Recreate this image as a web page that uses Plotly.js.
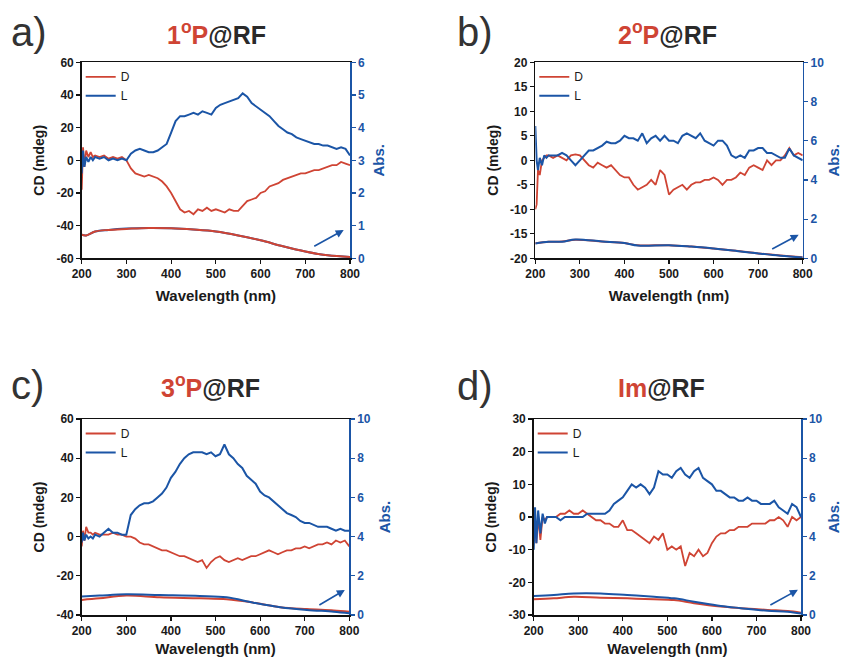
<!DOCTYPE html>
<html>
<head>
<meta charset="utf-8">
<script src="https://cdn.plot.ly/plotly-3.0.1.min.js"></script>
<style>html,body{margin:0;padding:0;background:#fff;}#chart{width:842px;height:657px;}</style>
</head>
<body>
<div id="chart"></div>
<script>
// ---- shared wavelength grid for CD spectra (nm) ----
const wl = [200,203,206,210,215,220,225,230,240,250,260,270,280,290,300,310,320,330,340,350,360,370,380,390,400,410,420,430,440,450,460,470,480,490,500,510,520,530,540,550,560,570,580,590,600,610,620,630,640,650,660,670,680,690,700,710,720,730,740,750,760,770,780,790,800];

// ---- a) 1°P@RF ----
const cdD_a = [-18,8,-4,6,2,5,2,3,2,3,1,2,1,2,0,-5,-8,-9,-10,-9,-10,-11,-13,-16,-20,-25,-30,-32,-31,-33,-30,-31,-29,-31,-30,-31,-32,-30,-31,-31,-28,-25,-24,-23,-20,-19,-16,-15,-14,-12,-11,-10,-9,-8,-8,-7,-6,-6,-5,-4,-3,-3,-1,-2,-3];
const cdL_a = [-8,6,-4,2,-1,2,0,2,1,2,0,1,0,1,0,4,6,7,6,5,5,6,8,10,17,24,27,27,28,29,28,30,29,28,32,34,35,36,37,38,41,39,35,33,31,29,27,24,21,19,17,16,14,13,12,11,10,10,9,9,8,7,8,7,3];
const absWl_a = [200,210,230,260,300,350,400,450,500,550,600,650,700,750,800];
const absD_a = [0.72,0.70,0.82,0.87,0.90,0.93,0.92,0.88,0.82,0.70,0.55,0.37,0.21,0.09,0.04];
const absL_a = [0.72,0.70,0.82,0.87,0.91,0.93,0.92,0.88,0.82,0.70,0.55,0.37,0.21,0.09,0.04];

// ---- b) 2°P@RF ----
const cdD_b = [-10,-9,-2,-3,0,0.5,1,1,0.5,1,0.5,0,1,1.2,1,0,-1,-1.5,-0.5,-1,-1.5,-1,-2,-3,-3.5,-3.5,-5,-6,-5.5,-5,-4,-5,-2,-3,-7,-6,-5.5,-5,-6,-5,-4.5,-4.5,-4,-4,-3.5,-4,-5,-4,-4,-3.5,-2.5,-3,-1.5,-1,-1.5,-2,0,-1,0,0,1,2.5,1,1.5,1];
const cdL_b = [7,0,-2,0.5,-1,1,0.5,1,1,1,1.5,1,0,-1,0,1,2,2,2.5,3,3.8,3.5,3.5,4,5,4.5,4.5,4,5.5,3.5,4.5,5,4,5,4,4,3.5,5,5.5,5,4.5,5.5,4,3.5,3,4,4,3,1,0.5,1,0.5,2,2,2.5,2.5,1.5,1.5,1,0.5,0.5,2.4,1,0.5,0];
const absWl_b = [200,230,260,290,350,400,430,500,550,600,650,700,750,800];
const absD_b = [0.77,0.84,0.86,0.95,0.86,0.78,0.66,0.67,0.60,0.50,0.39,0.25,0.14,0.05];
const absL_b = [0.75,0.84,0.85,0.96,0.86,0.78,0.65,0.67,0.60,0.50,0.38,0.25,0.13,0.04];

// ---- c) 3°P@RF ----
const cdD_c = [-5,3,-2,5,2,2,1,2,1,1,1,2,1,1,0,0,-1,-3,-4,-4,-5,-6,-7,-7,-8,-9,-10,-10,-11,-12,-13,-12,-16,-13,-11,-10,-12,-13,-12,-11,-12,-11,-10,-10,-9,-8,-7,-8,-9,-8,-7,-7,-6,-6,-5,-6,-5,-4,-4,-3,-4,-2,-3,-2,-5];
const cdL_c = [-3,2,-2,1,-1,0,-1,1,0,2,4,2,2,1,1,11,14,16,17,17,18,20,22,25,30,33,37,40,42,43,43,43,42,43,41,42,47,42,40,37,35,31,29,27,23,21,20,18,16,14,12,11,10,8,7,7,6,5,5,5,4,3,4,3,3];
const absWl_c = [200,240,300,375,465,525,585,645,705,765,800];
const absD_c = [0.77,0.85,0.99,0.90,0.85,0.80,0.63,0.40,0.30,0.23,0.17];
const absL_c = [0.94,0.99,1.06,1.02,0.97,0.90,0.63,0.40,0.26,0.17,0.09];

// ---- d) Im@RF ----
const cdD_d = [-5,-2,-8,0,-7,0,-1,0,0,0,1,1,2,1,1,2,1,0,-1,-1,-2,-2,-3,-3,-1,-4,-4,-5,-6,-7,-8,-6,-7,-5,-10,-9,-10,-9,-15,-11,-12,-10,-12,-11,-8,-6,-5,-5,-4,-4,-3,-3,-3,-2,-2,-2,-2,-1,-1,0,-1,-3,0,-1,0];
const cdL_d = [-10,3,-8,2,-5,1,-2,0,0,0,-1,0,0,0,0,0,1,1,1,1,1,2,4,5,6,8,10,9,10,9,7,9,14,13,13,12,14,15,13,12,14,15,12,11,10,8,8,7,6,6,5,5,6,5,5,4,4,4,5,3,2,1,4,3,0];
const absWl_d = [200,245,290,350,410,470,515,560,620,665,725,770,800];
const absD_d = [0.80,0.85,0.93,0.88,0.85,0.80,0.76,0.60,0.43,0.35,0.26,0.20,0.12];
const absL_d = [0.97,1.02,1.10,1.10,1.02,0.93,0.85,0.68,0.46,0.35,0.22,0.17,0.08];

// ---- tick labels (left CD axes, hyphen minus as in the original) ----
const cdTicks_a = [-60,-40,-20,0,20,40,60];
const cdTickText_a = ['-60','-40','-20','0','20','40','60'];
const cdTicks_b = [-20,-15,-10,-5,0,5,10,15,20];
const cdTickText_b = ['-20','-15','-10','-5','0','5','10','15','20'];
const cdTicks_c = [-40,-20,0,20,40,60];
const cdTickText_c = ['-40','-20','0','20','40','60'];
const cdTicks_d = [-30,-20,-10,0,10,20,30];
const cdTickText_d = ['-30','-20','-10','0','10','20','30'];

// ---- labels ----
const panelLetters = ['a)','b)','c)','d)'];
const panelNames = [['1<sup>o</sup>P','@RF'],['2<sup>o</sup>P','@RF'],['3<sup>o</sup>P','@RF'],['Im','@RF']];
const seriesNames = ['D','L'];
const cdRanges = [[-60,60],[-20,20],[-40,60],[-30,30]];
const absRanges = [[0,6],[0,10],[0,10],[0,10]];
const absDticks = [1,2,2,2];

const RED = '#cf4434';
const BLUE = '#1b55a6';
const FONT = 'Liberation Sans, Arial, sans-serif';
const W = 842, H = 657;

const panels = [
  {cdD: cdD_a, cdL: cdL_a, aw: absWl_a, aD: absD_a, aL: absL_a, tv: cdTicks_a, tt: cdTickText_a, px:[81.7,350], py:[62.3,258.3], redTop:true},
  {cdD: cdD_b, cdL: cdL_b, aw: absWl_b, aD: absD_b, aL: absL_b, tv: cdTicks_b, tt: cdTickText_b, px:[535.3,802.7], py:[62.3,258.3], redTop:false},
  {cdD: cdD_c, cdL: cdL_c, aw: absWl_c, aD: absD_c, aL: absL_c, tv: cdTicks_c, tt: cdTickText_c, px:[81.7,349.3], py:[419,615], redTop:false},
  {cdD: cdD_d, cdL: cdL_d, aw: absWl_d, aD: absD_d, aL: absL_d, tv: cdTicks_d, tt: cdTickText_d, px:[533.7,801], py:[419,615], redTop:false}
];
const titlePos = [[216,33],[667,33],[210,386],[661,388]];
const letterPos = [[9,32],[455,32],[9,385],[455,386]];
const arrows = [
  {x:786, y:-42.7, ax:-31, ay:17},
  {x:791, y:-15.2, ax:-28, ay:15},
  {x:790, y:-27.2, ax:-27, ay:16},
  {x:793, y:-22.3, ax:-29, ay:16}
];

const data = [];
const layout = {
  width: W, height: H,
  margin: {l:0, r:0, t:0, b:0},
  paper_bgcolor: '#ffffff', plot_bgcolor: 'rgba(0,0,0,0)',
  font: {family: FONT, color: '#1a1a1a'},
  showlegend: true,
  annotations: []
};

panels.forEach((p, i) => {
  const xid = i === 0 ? 'x' : 'x' + (i + 1);
  const yl = 'y' + (i === 0 ? '' : (2 * i + 1));
  const yr = 'y' + (2 * i + 2);
  const xkey = i === 0 ? 'xaxis' : 'xaxis' + (i + 1);
  const ylkey = i === 0 ? 'yaxis' : 'yaxis' + (2 * i + 1);
  const yrkey = 'yaxis' + (2 * i + 2);
  const legKey = i === 0 ? 'legend' : 'legend' + (i + 1);

  // absorbance spectra (right axis)
  const absD = {x: p.aw, y: p.aD, xaxis: xid, yaxis: yr, mode: 'lines', line: {color: RED, width: 2, shape: 'spline'}, showlegend: false, hoverinfo: 'skip'};
  const absL = {x: p.aw, y: p.aL, xaxis: xid, yaxis: yr, mode: 'lines', line: {color: BLUE, width: 2, shape: 'spline'}, showlegend: false, hoverinfo: 'skip'};
  if (p.redTop) { data.push(absL, absD); } else { data.push(absD, absL); }

  // CD spectra (left axis)
  data.push({x: wl, y: p.cdD, xaxis: xid, yaxis: yl, mode: 'lines', name: seriesNames[0], legend: legKey, line: {color: RED, width: 1.8}});
  data.push({x: wl, y: p.cdL, xaxis: xid, yaxis: yl, mode: 'lines', name: seriesNames[1], legend: legKey, line: {color: BLUE, width: 2}});

  const xd = [p.px[0] / W, p.px[1] / W];
  const yd = [1 - p.py[1] / H, 1 - p.py[0] / H];

  layout[xkey] = {
    domain: xd, anchor: yl, range: [200, 800], dtick: 100, tick0: 200,
    showline: true, linecolor: '#111', linewidth: 1.5, mirror: true,
    ticks: 'outside', ticklen: 4, tickwidth: 1.2, tickcolor: '#111',
    showgrid: false, zeroline: false,
    tickfont: {family: FONT, size: 12, color: '#1a1a1a', weight: 'bold'},
    title: {text: 'Wavelength (nm)', font: {family: FONT, size: 15, color: '#1a1a1a', weight: 'bold'}, standoff: 10}
  };
  layout[ylkey] = {
    domain: yd, anchor: xid, range: cdRanges[i], tickmode: 'array', tickvals: p.tv, ticktext: p.tt,
    showline: true, linecolor: '#111', linewidth: 1.5,
    ticks: 'outside', ticklen: 4, tickwidth: 1.2, tickcolor: '#111',
    showgrid: false, zeroline: false,
    tickfont: {family: FONT, size: 12, color: '#1a1a1a', weight: 'bold'},
    title: {text: 'CD (mdeg)', font: {family: FONT, size: 14, color: '#1a1a1a', weight: 'bold'}, standoff: 8}
  };
  layout[yrkey] = {
    domain: yd, anchor: xid, overlaying: yl, side: 'right', range: absRanges[i], dtick: absDticks[i],
    showline: true, linecolor: BLUE, linewidth: 1.5,
    ticks: 'outside', ticklen: 4, tickwidth: 1.2, tickcolor: BLUE,
    showgrid: false, zeroline: false,
    tickfont: {family: FONT, size: 12, color: BLUE, weight: 'bold'},
    title: {text: 'Abs.', font: {family: FONT, size: 15, color: BLUE, weight: 'bold'}, standoff: 9}
  };
  layout[legKey] = {
    x: (p.px[0] - 1) / W, y: 1 - (p.py[0] + 0) / H, xanchor: 'left', yanchor: 'top',
    bgcolor: 'rgba(0,0,0,0)', borderwidth: 0, font: {family: FONT, size: 12, color: '#1a1a1a'},
    itemwidth: 30, tracegroupgap: 0
  };

  // panel title
  layout.annotations.push({
    xref: 'paper', yref: 'paper', x: titlePos[i][0] / W, y: 1 - titlePos[i][1] / H,
    xanchor: 'center', yanchor: 'middle', showarrow: false,
    text: '<span style="color:' + RED + '">' + panelNames[i][0] + '</span>' + panelNames[i][1],
    font: {family: FONT, size: 25, color: '#2a2a2a', weight: 'bold'}
  });
  // panel letter
  layout.annotations.push({
    xref: 'paper', yref: 'paper', x: letterPos[i][0] / W, y: 1 - letterPos[i][1] / H,
    xanchor: 'left', yanchor: 'middle', showarrow: false,
    text: panelLetters[i], font: {family: FONT, size: 40, color: '#333333'}
  });
  // arrow pointing to the absorbance axis
  layout.annotations.push({
    xref: xid, yref: yl, x: arrows[i].x, y: arrows[i].y, ax: arrows[i].ax, ay: arrows[i].ay,
    text: '', showarrow: true, arrowhead: 2, arrowsize: 1, arrowwidth: 1.6, arrowcolor: BLUE
  });
});

Plotly.newPlot('chart', data, layout, {displayModeBar: false, staticPlot: true});
</script>
</body>
</html>
